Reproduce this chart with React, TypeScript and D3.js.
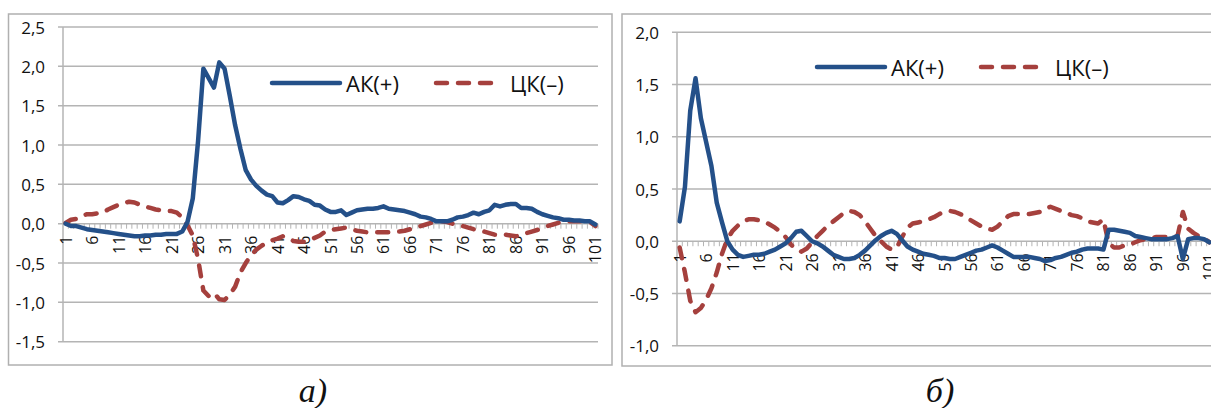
import * as React from "react";
import * as d3 from "d3";

// category numbers 1..101 (labels every 5th)
const categories = d3.range(1, 102);
const tickLabels = categories.filter((c) => (c - 1) % 5 === 0);

// chart а)
const leftAK = [
  0.0, -0.03, -0.03, -0.05, -0.07, -0.08, -0.09, -0.1, -0.11, -0.12,
  -0.13, -0.14, -0.15, -0.16, -0.16, -0.15, -0.15, -0.14, -0.14, -0.13,
  -0.13, -0.13, -0.1, 0.02, 0.32, 1.05, 1.97, 1.85, 1.73, 2.05,
  1.97, 1.62, 1.25, 0.95, 0.68, 0.56, 0.48, 0.42, 0.37, 0.35,
  0.27, 0.26, 0.3, 0.35, 0.34, 0.31, 0.29, 0.24, 0.23, 0.18,
  0.15, 0.15, 0.17, 0.11, 0.14, 0.17, 0.18, 0.19, 0.19, 0.2,
  0.22, 0.19, 0.18, 0.17, 0.16, 0.14, 0.12, 0.09, 0.08, 0.06,
  0.03, 0.03, 0.03, 0.05, 0.08, 0.09, 0.11, 0.14, 0.12, 0.15,
  0.17, 0.24, 0.22, 0.24, 0.25, 0.25, 0.2, 0.2, 0.19, 0.15,
  0.12, 0.1, 0.08, 0.07, 0.05, 0.05, 0.04, 0.04, 0.03, 0.03,
  -0.01,
];
const leftCK = [
  0.01, 0.05, 0.06, 0.1, 0.12, 0.12, 0.13, 0.14, 0.18, 0.21,
  0.24, 0.26, 0.28, 0.27, 0.24, 0.22, 0.2, 0.18, 0.17, 0.16,
  0.16, 0.14, 0.08, -0.02, -0.15, -0.45, -0.85, -0.92, -0.88, -0.96,
  -0.97, -0.9, -0.8, -0.62, -0.5, -0.4, -0.33, -0.28, -0.24, -0.21,
  -0.19, -0.16, -0.18, -0.22, -0.23, -0.23, -0.21, -0.18, -0.15, -0.1,
  -0.08, -0.07, -0.06, -0.05, -0.07, -0.09, -0.1, -0.11, -0.11, -0.11,
  -0.11, -0.11, -0.1, -0.1, -0.09, -0.07, -0.05, -0.03, -0.01, 0.01,
  0.03, 0.03, 0.02, 0.0, -0.02, -0.03, -0.05, -0.07, -0.08, -0.1,
  -0.12, -0.14, -0.14, -0.14, -0.15, -0.16, -0.15, -0.12, -0.1, -0.08,
  -0.06, -0.03, -0.01, 0.01, 0.02, 0.03, 0.03, 0.03, 0.03, 0.02,
  -0.03,
];
const leftTicks = [-1.5, -1.0, -0.5, 0.0, 0.5, 1.0, 1.5, 2.0, 2.5];

// chart б)
const rightAK = [
  0.19, 0.52, 1.25, 1.56, 1.18, 0.95, 0.72, 0.37, 0.18, 0.0,
  -0.08, -0.13, -0.15, -0.14, -0.13, -0.13, -0.12, -0.1, -0.08, -0.05,
  -0.02, 0.03, 0.09, 0.1, 0.05, 0.0, -0.02, -0.05, -0.09, -0.13,
  -0.15, -0.17, -0.17, -0.16, -0.13, -0.09, -0.04, 0.01, 0.05, 0.08,
  0.1, 0.07, 0.01, -0.05, -0.08, -0.1, -0.12, -0.13, -0.14, -0.16,
  -0.16, -0.17, -0.17, -0.15, -0.13, -0.11, -0.09, -0.08, -0.06, -0.04,
  -0.06, -0.09, -0.12, -0.15, -0.15, -0.15, -0.15, -0.16, -0.17, -0.19,
  -0.18, -0.16, -0.15, -0.13, -0.11, -0.1, -0.08, -0.07, -0.07, -0.07,
  -0.08, 0.11, 0.11, 0.1, 0.09, 0.08, 0.05, 0.04, 0.03, 0.02,
  0.02, 0.02, 0.02, 0.03, 0.05, -0.17, 0.02, 0.03, 0.03, 0.02,
  -0.01,
];
const rightCK = [
  -0.06, -0.3, -0.57, -0.68, -0.64, -0.56, -0.45, -0.3, -0.12, 0.02,
  0.1, 0.15, 0.19, 0.21, 0.21, 0.2, 0.19, 0.16, 0.13, 0.09,
  0.04, -0.03, -0.08, -0.1, -0.07, -0.01, 0.05, 0.1, 0.15, 0.19,
  0.23, 0.27, 0.29, 0.28, 0.25, 0.19, 0.12, 0.05, 0.0, -0.05,
  -0.08, -0.06, 0.04, 0.13, 0.17, 0.18, 0.19, 0.21, 0.23, 0.26,
  0.28, 0.29, 0.28, 0.26, 0.23, 0.2, 0.17, 0.14, 0.12, 0.11,
  0.14, 0.19, 0.24, 0.26, 0.26, 0.26, 0.26, 0.27, 0.28, 0.31,
  0.33, 0.31, 0.29, 0.27, 0.25, 0.24, 0.22, 0.19, 0.18, 0.17,
  0.21, -0.02, -0.06, -0.06, -0.04, -0.03, -0.01, 0.01, 0.02, 0.03,
  0.04, 0.04, 0.04, 0.04, 0.05, 0.28, 0.12, 0.08, 0.05, 0.03,
  -0.01,
];
const rightTicks = [-1.0, -0.5, 0.0, 0.5, 1.0, 1.5, 2.0];

const seriesNames = ["АК(+)", "ЦК(–)"];

const BLUE = "#245089";
const RED = "#a5403d";
const GRID = "#b4b4b4";
const FONT = "'Open Sans', sans-serif";

const fmt = (v: number) => v.toFixed(1).replace(".", ",");

function Chart(props: any) {
  const { frame, plot, ticks, ak, ck, legend } = props;

  const x = d3.scaleBand<number>().domain(categories).range([plot.x0, plot.x1]);
  const bw = x.bandwidth();
  const cx = (c: number) => (x(c) as number) + bw / 2;
  const y = d3
    .scaleLinear()
    .domain([ticks[0], ticks[ticks.length - 1]])
    .range([plot.y1, plot.y0]);

  const line = d3
    .line<number>()
    .x((d, i) => cx(categories[i]))
    .y((d) => y(d));

  const y0 = y(0);

  return (
    <g>
      <rect
        x={frame.x}
        y={frame.y}
        width={frame.w}
        height={frame.h}
        fill="white"
        stroke="#b0b0b0"
        strokeWidth={1.5}
      />
      {ticks.map((t: number) => (
        <g key={t}>
          <line
            x1={plot.x0 - 5}
            x2={plot.x1}
            y1={y(t)}
            y2={y(t)}
            stroke={GRID}
            strokeWidth={1.5}
          />
          <text
            x={plot.x0 - 18}
            y={y(t)}
            textAnchor="end"
            dominantBaseline="central"
            fontFamily={FONT}
            fontSize={17}
            fill="#111"
          >
            {fmt(t)}
          </text>
        </g>
      ))}
      <line
        x1={plot.x0}
        x2={plot.x0}
        y1={plot.y0}
        y2={plot.y1}
        stroke={GRID}
        strokeWidth={1.5}
      />
      {/* minor ticks on category axis */}
      {categories.map((c) => (
        <line
          key={c}
          x1={(x(c) as number) + bw}
          x2={(x(c) as number) + bw}
          y1={y0}
          y2={y0 + 5}
          stroke={GRID}
          strokeWidth={1}
        />
      ))}
      {tickLabels.map((c) => (
        <text
          key={c}
          transform={`translate(${cx(c)}, ${y0 + 12})rotate(-90)`}
          textAnchor="end"
          dominantBaseline="central"
          fontFamily={FONT}
          fontSize={16}
          fill="#111"
        >
          {c}
        </text>
      ))}
      <path
        d={line(ck) as string}
        fill="none"
        stroke={RED}
        strokeWidth={4.5}
        strokeDasharray="11 11"
        strokeLinecap="round"
        strokeLinejoin="round"
      />
      <path
        d={line(ak) as string}
        fill="none"
        stroke={BLUE}
        strokeWidth={4.5}
        strokeLinecap="round"
        strokeLinejoin="round"
      />
      {/* legend */}
      <g transform={`translate(${legend.x}, ${legend.y})`}>
        <line x1={0} x2={68} y1={0} y2={0} stroke={BLUE} strokeWidth={4.5} strokeLinecap="round" />
        <text x={74} y={0} dominantBaseline="central" fontFamily={FONT} fontSize={22} fill="#111">
          {seriesNames[0]}
        </text>
        <line
          x1={164}
          x2={224}
          y1={0}
          y2={0}
          stroke={RED}
          strokeWidth={4.5}
          strokeDasharray="11 11"
          strokeLinecap="round"
        />
        <text x={238} y={0} dominantBaseline="central" fontFamily={FONT} fontSize={22} fill="#111">
          {seriesNames[1]}
        </text>
      </g>
    </g>
  );
}

export default function App() {
  return (
    <svg
      width={1211}
      height={408}
      style={{ position: "absolute", left: 0, top: 0, background: "white" }}
    >
      <Chart
        frame={{ x: 8.5, y: 14, w: 603.5, h: 351 }}
        plot={{ x0: 63, x1: 598, y0: 27, y1: 341.7 }}
        ticks={leftTicks}
        ak={leftAK}
        ck={leftCK}
        legend={{ x: 272, y: 83 }}
      />
      <Chart
        frame={{ x: 622, y: 14, w: 620, h: 352 }}
        plot={{ x0: 677, x1: 1212, y0: 32.3, y1: 345.7 }}
        ticks={rightTicks}
        ak={rightAK}
        ck={rightCK}
        legend={{ x: 817, y: 67 }}
      />
      <text
        x={313}
        y={402}
        textAnchor="middle"
        fontFamily="'Liberation Serif', serif"
        fontStyle="italic"
        fontSize={34}
        fill="#111"
      >
        а)
      </text>
      <text
        x={940}
        y={402}
        textAnchor="middle"
        fontFamily="'Liberation Serif', serif"
        fontStyle="italic"
        fontSize={34}
        fill="#111"
      >
        б)
      </text>
    </svg>
  );
}
